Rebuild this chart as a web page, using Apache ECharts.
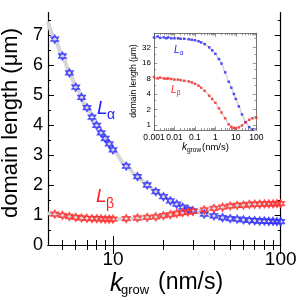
<!DOCTYPE html>
<html><head><meta charset="utf-8">
<script src="https://cdn.jsdelivr.net/npm/echarts@6/dist/echarts.min.js"></script>
<style>html,body{margin:0;padding:0;background:#fff}#c{width:300px;height:300px}</style>
</head><body><div id="c"></div>
<script>
// ---- main panel data ----
var kGrow = [4.5,5,5.5,6,6.5,7,7.5,8,8.5,9,9.5,10,12,14,16,18,20,22,24,26,28,30,35,40,45,50,55,60,65,70,75,80,85,90,95,100];
var lAlpha = [6.86,6.3,5.74,5.26,4.92,4.58,4.26,3.99,3.74,3.55,3.37,3.17,2.63,2.28,2.0,1.78,1.61,1.47,1.36,1.26,1.19,1.14,1.03,0.97,0.91,0.88,0.86,0.84,0.82,0.81,0.8,0.8,0.79,0.79,0.78,0.78];
var lBeta = [1.03,0.99,0.95,0.92,0.9,0.89,0.88,0.88,0.87,0.86,0.86,0.86,0.88,0.9,0.92,0.94,0.98,1.01,1.05,1.08,1.1,1.12,1.17,1.22,1.26,1.3,1.32,1.33,1.35,1.36,1.36,1.37,1.37,1.37,1.38,1.38];
var fitK = [4.1,4.5,5,5.5,6,7,8,9,10,12,14,16,18,20,24,28,30,35,40,50,60,70,80,90,100];
var fitAlpha = [7.45,6.86,6.3,5.76,5.28,4.58,3.99,3.55,3.17,2.63,2.28,2.0,1.78,1.61,1.36,1.2,1.14,1.03,0.96,0.88,0.84,0.81,0.8,0.79,0.78];
var fitBeta = [1.06,1.03,0.99,0.95,0.92,0.89,0.88,0.87,0.86,0.87,0.89,0.92,0.95,0.98,1.05,1.1,1.12,1.17,1.22,1.3,1.33,1.36,1.37,1.37,1.38];
var xMajor = [10,100];
var xMinor = [5,6,7,8,9,20,30,40,50,60,70,80,90];
var yMajor = [0,1,2,3,4,5,6,7];
var yMinor = [0.5,1.5,2.5,3.5,4.5,5.5,6.5,7.5];
// ---- inset data ----
var insetK = [0.001,0.0015,0.002,0.003,0.004,0.005,0.007,0.01,0.015,0.02,0.03,0.05,0.07,0.1,0.15,0.2,0.3,0.5,0.7,1,1.5,2,3,4.5,6,8,10,14,20,30,45,65,100];
var insetAlpha = [50,52,49,50,48,50,48,48,48,47,47,46,45,44,42,40,37,32,28,24,19,15.5,10.5,6.9,5.3,4.0,3.2,2.3,1.6,1.14,0.91,0.82,0.78];
var insetBeta = [8.5,8.0,8.3,8.0,7.9,8.0,7.8,7.6,7.6,7.4,7.2,7.0,6.7,6.3,5.8,5.3,4.6,3.7,3.2,2.7,2.1,1.75,1.35,1.03,0.92,0.88,0.86,0.9,0.98,1.12,1.26,1.35,1.38];
var inXMajor = [0.001,0.01,0.1,1,10,100];
var inXMinor = [];
[0.001,0.01,0.1,1,10].forEach(function(d){for(var m=2;m<10;m++)inXMinor.push(+(d*m).toPrecision(3));});
var inYMajor = [1,2,4,8,16,32];
var inYMinor = [1.5,3,6,12,24,48];

var BLUE = 'rgb(35,35,255)', RED = 'rgb(255,35,35)', GREY = '#d6d6d6';
var hex = 'path://M0,-10L8.66,5L-8.66,5Z M0,10L8.66,-5L-8.66,-5Z';
function zip(a,b){return a.map(function(v,i){return [v,b[i]];});}
function fmt(v){return String(+(+v).toPrecision(3));}

var FONT = 'Liberation Sans';
function tickAxis(base, vals, len, show, label, fs, margin){
  var o = Object.assign({}, base);
  o.axisTick = {show:true, inside:true, length:len, customValues:vals, lineStyle:{color:'#000', width:1}};
  o.axisLabel = label ? {show:true, customValues:vals, fontSize:fs, color:'#000', fontFamily:FONT, margin:margin, formatter:fmt} : {show:false};
  o.axisLine = {show:show, lineStyle:{color:'#000', width:1.2}};
  o.splitLine = {show:false};
  return o;
}
var mx = {type:'log', min:4.1, max:100, gridIndex:0};
var my = {type:'value', min:0, max:7.75, gridIndex:0};
var ix = {type:'log', min:0.001, max:100, gridIndex:1};
var iy = {type:'log', logBase:2, min:0.8, max:60, gridIndex:1};

var xAxes = [
  tickAxis(Object.assign({position:'bottom'},mx), xMajor, 9, true, true, 19, 5),
  tickAxis(Object.assign({position:'bottom'},mx), xMinor, 5, false, false),
  tickAxis(Object.assign({position:'top'},mx), xMajor, 9, true, false),
  tickAxis(Object.assign({position:'top'},mx), xMinor, 5, false, false),
  tickAxis(Object.assign({position:'bottom'},ix), inXMajor, 3.5, true, true, 8.5, 3),
  tickAxis(Object.assign({position:'bottom'},ix), inXMinor, 2, false, false),
  tickAxis(Object.assign({position:'top'},ix), inXMajor, 3.5, true, false),
  tickAxis(Object.assign({position:'top'},ix), inXMinor, 2, false, false)
];
var yAxes = [
  tickAxis(Object.assign({position:'left'},my), yMajor, 6, true, true, 18, 5),
  tickAxis(Object.assign({position:'left'},my), yMinor, 3, false, false),
  tickAxis(Object.assign({position:'right'},my), yMajor, 6, true, false),
  tickAxis(Object.assign({position:'right'},my), yMinor, 3, false, false),
  tickAxis(Object.assign({position:'left'},iy), inYMajor, 3.5, true, true, 8, 3),
  tickAxis(Object.assign({position:'left'},iy), inYMinor, 2, false, false),
  tickAxis(Object.assign({position:'right'},iy), inYMajor, 3.5, true, false),
  tickAxis(Object.assign({position:'right'},iy), inYMinor, 2, false, false)
];
[4,5,6,7].forEach(function(i){xAxes[i].axisLine.lineStyle={color:'#555',width:0.8};yAxes[i].axisLine.lineStyle={color:'#555',width:0.8};
  xAxes[i].axisTick.lineStyle={color:'#555',width:0.6};yAxes[i].axisTick.lineStyle={color:'#555',width:0.6};});

var chart = echarts.init(document.getElementById('c'), null, {renderer:'canvas'});
chart.setOption({
  animation:false,
  backgroundColor:'#fff',
  grid:[
    {left:48, top:12.5, width:232.7, height:232.5},
    {left:154, top:33.3, width:102.3, height:96.7, show:true, backgroundColor:'#fff', borderWidth:0}
  ],
  xAxis:xAxes, yAxis:yAxes,
  series:[
    {type:'line', xAxisIndex:0, yAxisIndex:0, z:1, data:zip(fitK,fitAlpha), smooth:0.3, smoothMonotone:'x', showSymbol:false, lineStyle:{color:GREY,width:4}},
    {type:'line', xAxisIndex:0, yAxisIndex:0, z:1, data:zip(fitK,fitBeta), smooth:0.3, smoothMonotone:'x', showSymbol:false, lineStyle:{color:GREY,width:4}},
    {type:'scatter', xAxisIndex:0, yAxisIndex:0, z:5, data:zip(kGrow,lAlpha), symbol:hex, symbolSize:[7.5,8], clip:false,
      itemStyle:{color:'#fff', borderColor:BLUE, borderWidth:1.3}},
    {type:'scatter', xAxisIndex:0, yAxisIndex:0, z:5, data:zip(kGrow,lBeta), symbol:hex, symbolSize:[7.5,8], clip:false,
      itemStyle:{color:'#fff', borderColor:RED, borderWidth:1.3}},
    {type:'line', xAxisIndex:4, yAxisIndex:4, z:6, data:zip(insetK,insetAlpha), smooth:0.3, smoothMonotone:'x', showSymbol:false, lineStyle:{color:GREY,width:1.5}},
    {type:'line', xAxisIndex:4, yAxisIndex:4, z:6, data:zip(insetK,insetBeta), smooth:0.3, smoothMonotone:'x', showSymbol:false, lineStyle:{color:GREY,width:1.5}},
    {type:'scatter', xAxisIndex:4, yAxisIndex:4, z:7, data:zip(insetK,insetAlpha), symbol:'rect', symbolSize:2.5, itemStyle:{color:BLUE}},
    {type:'scatter', xAxisIndex:4, yAxisIndex:4, z:7, data:zip(insetK,insetBeta), symbol:'rect', symbolSize:2.5, itemStyle:{color:RED}}
  ],
  graphic:[
    {type:'text', x:11, y:123, rotation:Math.PI/2, style:{text:'domain length (μm)', font:'22px "Liberation Sans"', fill:'#000', align:'center', verticalAlign:'middle'}},
    {type:'text', x:110, y:272, style:{text:'k', font:'italic 25px "Liberation Sans"', fill:'#000', align:'left', verticalAlign:'top'}},
    {type:'text', x:121, y:284, style:{text:'grow', font:'13px "Liberation Sans"', fill:'#000', align:'left', verticalAlign:'top'}},
    {type:'text', x:158, y:271, style:{text:'(nm/s)', font:'23px "Liberation Sans"', fill:'#000', align:'left', verticalAlign:'top'}},
    {type:'text', x:97, y:99, style:{text:'L', font:'italic 19px "Liberation Sans"', fill:BLUE, align:'left', verticalAlign:'top'}},
    {type:'text', x:107, y:108, style:{text:'α', font:'14px "Liberation Sans"', fill:BLUE, align:'left', verticalAlign:'top'}},
    {type:'text', x:96, y:187, style:{text:'L', font:'italic 19px "Liberation Sans"', fill:RED, align:'left', verticalAlign:'top'}},
    {type:'text', x:106, y:197, style:{text:'β', font:'14px "Liberation Sans"', fill:RED, align:'left', verticalAlign:'top'}},
    {type:'text', x:134, y:81, rotation:Math.PI/2, style:{text:'domain length (μm)', font:'8.5px "Liberation Sans"', fill:'#000', align:'center', verticalAlign:'middle'}},
    {type:'text', x:182, y:142, style:{text:'k', font:'italic 10px "Liberation Sans"', fill:'#000', align:'left', verticalAlign:'top'}},
    {type:'text', x:187, y:147, style:{text:'grow', font:'6.5px "Liberation Sans"', fill:'#000', align:'left', verticalAlign:'top'}},
    {type:'text', x:202, y:142, style:{text:'(nm/s)', font:'9.5px "Liberation Sans"', fill:'#000', align:'left', verticalAlign:'top'}},
    {type:'text', x:174, y:45, style:{text:'L', font:'italic 10px "Liberation Sans"', fill:BLUE, align:'left', verticalAlign:'top'}},
    {type:'text', x:179.5, y:50, style:{text:'α', font:'7px "Liberation Sans"', fill:BLUE, align:'left', verticalAlign:'top'}},
    {type:'text', x:171, y:85, style:{text:'L', font:'italic 10px "Liberation Sans"', fill:RED, align:'left', verticalAlign:'top'}},
    {type:'text', x:176.5, y:90, style:{text:'β', font:'7px "Liberation Sans"', fill:RED, align:'left', verticalAlign:'top'}}
  ]
});
</script></body></html>
